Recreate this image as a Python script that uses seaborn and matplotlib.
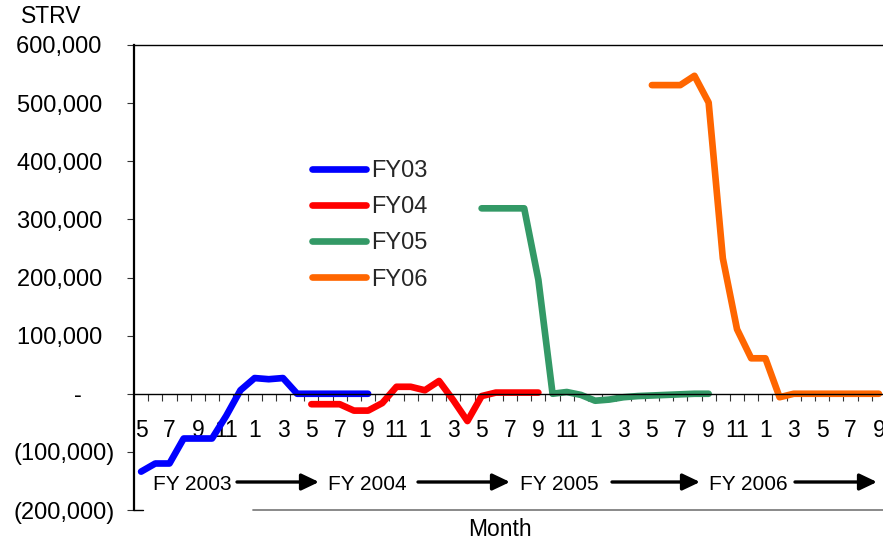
import matplotlib
matplotlib.use("Agg")
import matplotlib.pyplot as plt
import pandas as pd
import seaborn as sns

sns.set_theme(style="white")
plt.rcParams["font.family"] = ["Liberation Sans", "DejaVu Sans"]

# Month index 0 = May 2003 ... 52 = September 2007
series_names = ["FY03", "FY04", "FY05", "FY06"]
series_starts = [0, 12, 24, 36]
fy03 = [-134000, -120000, -120000, -77000, -77000, -77000, -38000, 6000, 27000,
        25000, 27000, 0, 0, 0, 0, 0, 0]
fy04 = [-18000, -18000, -18000, -29000, -29000, -16000, 12000, 12000, 6000,
        22000, -11000, -47000, -4000, 2000, 2000, 2000, 2000]
fy05 = [319000, 319000, 319000, 319000, 196000, 0, 3000, -2000, -12000,
        -10000, -6000, -4000, -3000, -2000, -1000, 0, 0]
fy06 = [531000, 531000, 531000, 547000, 501000, 233000, 111000, 61000, 61000,
        -6000, 0, 0, 0, 0, 0, 0, 0]
series_colors = ["#0000FF", "#FF0000", "#339966", "#FF6600"]

month_labels = ["5", "7", "9", "11", "1", "3", "5", "7", "9", "11", "1", "3",
                "5", "7", "9", "11", "1", "3", "5", "7", "9", "11", "1", "3",
                "5", "7", "9"]
fy_labels = ["FY 2003", "FY 2004", "FY 2005", "FY 2006"]
y_ticks = [-200000, -100000, 0, 100000, 200000, 300000, 400000, 500000, 600000]

rows = []
for name, start, vals in zip(series_names, series_starts, [fy03, fy04, fy05, fy06]):
    for k, v in enumerate(vals):
        rows.append({"month": start + k, "value": v, "series": name})
df = pd.DataFrame(rows)
n_months = 53

W, H = 883, 543
fig = plt.figure(figsize=(W / 100, H / 100), dpi=100)
ax_left, ax_right, ax_top, ax_bottom = 134, 886, 45, 510
ax = fig.add_axes([ax_left / W, 1 - ax_bottom / H,
                   (ax_right - ax_left) / W, (ax_bottom - ax_top) / H])

sns.lineplot(data=df, x="month", y="value", hue="series", hue_order=series_names,
             palette=series_colors, linewidth=4.8, errorbar=None, legend=False,
             solid_capstyle="round", solid_joinstyle="round", ax=ax)

ax.set_xlim(-0.5, n_months - 0.5)
ax.set_ylim(y_ticks[0], y_ticks[-1])
ax.set_xlabel("")
ax.set_ylabel("")

# axes frame: left axis, top border, category axis crossing at zero
ax.spines["right"].set_visible(False)
ax.spines["left"].set_linewidth(1.6)
ax.spines["left"].set_color("black")
ax.spines["top"].set_linewidth(1.0)
ax.spines["top"].set_color("black")
ax.spines["bottom"].set_position(("data", 0))
ax.spines["bottom"].set_linewidth(1.0)
ax.spines["bottom"].set_color("black")

# category boundaries carry tick marks, month labels sit at category centres
ax.set_xticks([k + 0.5 for k in range(n_months - 1)])
ax.set_xticklabels([])
ax.set_xticks(list(range(0, n_months, 2)), minor=True)
ax.set_xticklabels(month_labels, minor=True)
ax.tick_params(axis="x", which="major", bottom=True, direction="out",
               length=5, width=0.8, color="#333333")
ax.tick_params(axis="x", which="minor", bottom=True, length=0, pad=18.5,
               labelsize=16.5, labelcolor="black")


def accounting(v):
    if v == 0:
        return "-     "
    if v < 0:
        return f"({-v:,.0f})"
    return f"{v:,.0f}  "


ax.set_yticks(y_ticks)
ax.set_yticklabels([accounting(v) for v in y_ticks])
ax.tick_params(axis="y", left=True, direction="out", length=5, width=0.8,
               color="#333333", pad=8.6, labelsize=17, labelcolor="black")

# lower border line below the month band
ax.plot([0, (143 - ax_left) / (ax_right - ax_left)], [0, 0], color="black",
        lw=1.0, transform=ax.transAxes, clip_on=False)
ax.plot([(253 - ax_left) / (ax_right - ax_left), 1], [0, 0], color="#808080",
        lw=1.3, transform=ax.transAxes, clip_on=False)

handles = ax.get_lines()[:4]
ax.legend(handles=handles, labels=series_names, loc="upper left",
          bbox_to_anchor=(312 / W, 1 - 160 / H), bbox_transform=fig.transFigure,
          frameon=False, fontsize=17, handlelength=2.3, handletextpad=0.22,
          labelspacing=0.6, borderpad=0, borderaxespad=0)

# fiscal-year band with arrows
fy_x = [192, 367, 559, 748]
for label, x in zip(fy_labels, fy_x):
    fig.text(x / W, 1 - 490.5 / H, label, ha="center", va="baseline",
             fontsize=15, color="black")
arrows = [(237, 319), (418, 510), (612, 700), (795, 877)]
for x0, x1 in arrows:
    ax.annotate("", xy=(x1, H - 482), xytext=(x0, H - 482),
                xycoords="figure pixels", textcoords="figure pixels",
                arrowprops=dict(arrowstyle="-|>,head_length=1.05,head_width=0.5",
                                lw=2.4, color="black", shrinkA=0, shrinkB=0,
                                mutation_scale=10))

fig.text(500 / W, 1 - 536.5 / H, "Month", ha="center", va="baseline",
         fontsize=16.5, color="black")
fig.text(21 / W, 1 - 23.3 / H, "STRV", ha="left", va="baseline",
         fontsize=16.5, color="black")

fig.savefig("out.png", dpi=100)
